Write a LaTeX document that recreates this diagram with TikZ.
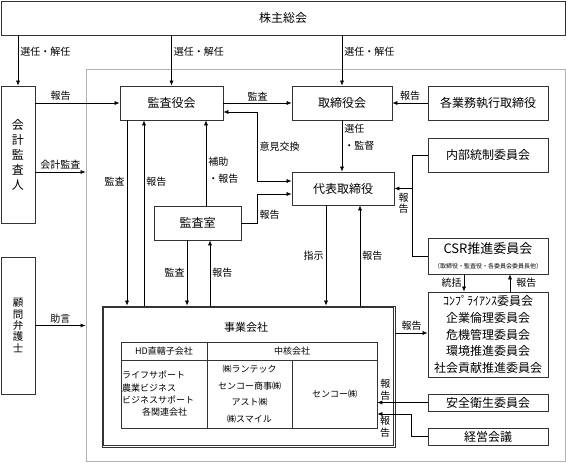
\documentclass[tikz,border=0pt]{standalone}
\usepackage{fontspec}
\setmainfont{Noto Sans CJK JP}
\usepackage{tikz}
\usetikzlibrary{arrows.meta,positioning}
\tikzset{
    BX/.style ={rectangle, draw=black!80, line width=0.7pt, inner sep=0pt, font=\fontsize{12}{14}\selectfont},
    TB/.style ={rectangle, draw=black!80, line width=0.6pt, inner sep=1pt, font=\fontsize{9}{11}\selectfont},
    FR/.style ={rectangle, draw=black!30, line width=1pt, inner sep=0pt},
    LB/.style ={inner sep=2pt, font=\fontsize{10}{11.5}\selectfont},
    AR/.style ={->, >={Latex[length=5pt,width=4pt]}, line width=0.6pt}
}
\begin{document}
\begin{tikzpicture}[x=1pt,y=-1pt,
        TT/.style={font=\fontsize{10}{17}\selectfont, align=left},
        VT/.style={font=\fontsize{10}{11.5}\selectfont, align=center}]
        \useasboundingbox (0,0) rectangle (566,463);
        \node[FR, minimum width=479, minimum height=392](frame) at (325.5,265) {};
        \node[BX, minimum width=564, minimum height=34](soukai) at (283,18) {株主総会};
        \node[BX, minimum width=34, minimum height=137, align=center, font=\fontsize{12}{15}\selectfont](kaikei) at (18,154.5) {会\\計\\監\\査\\人};
        \node[BX, minimum width=34, minimum height=137, align=center, font=\fontsize{10.5}{11.3}\selectfont](komon) at (18,325.5) {顧\\問\\弁\\護\\士};
        \node[BX, minimum width=103, minimum height=34](kansayaku) at (171.5,103) {監査役会};
        \node[BX, minimum width=100, minimum height=34](torishimari) at (342,103) {取締役会};
        \node[BX, minimum width=120, minimum height=34](shikkou) at (488,103) {各業務執行取締役};
        \node[BX, minimum width=102, minimum height=33](daihyo) at (343,188.5) {代表取締役};
        \node[BX, minimum width=87, minimum height=34](kansashitsu) at (197.5,223) {監査室};
        \node[BX, minimum width=120, minimum height=34](naibu) at (488,155) {内部統制委員会};
        \node[BX, minimum width=120, minimum height=36, align=center, font=\fontsize{13}{15.3}\selectfont](csr) at (488,256) {CSR推進委員会\\{\fontsize{6}{6}\selectfont （取締役・監査役・各委員会委員長他）}};
        \node[BX, minimum width=120, minimum height=85, align=center, font=\fontsize{12}{16.8}\selectfont](iinkai) at (488,334.5) {ｺﾝﾌﾟﾗｲｱﾝｽ委員会\\企業倫理委員会\\危機管理委員会\\環境推進委員会\\社会貢献推進委員会};
        \node[BX, minimum width=120, minimum height=17](anzen) at (488,402.5) {安全衛生委員会};
        \node[BX, minimum width=120, minimum height=17](keiei) at (488,436.5) {経営会議};
        \node[BX, minimum width=293, minimum height=141](jigyo) at (248.5,376.5) {};
        \draw[line width=0.7pt, draw=black!80] ([xshift=2pt,yshift=-2pt]jigyo.north west) rectangle ([xshift=-2pt,yshift=2pt]jigyo.south east);
        \node[font=\fontsize{11}{13}\selectfont](jtitle) at (246,327) {事業会社};
        \node[TB, minimum width=86, minimum height=18](hd) at (164,351) {HD直轄子会社};
        \node[TB, minimum width=170, minimum height=18](chukaku) at (292,351) {中核会社};
        \node[TB, text width=84pt, minimum height=68, align=left, font=\fontsize{9}{12.3}\selectfont](kanren) at (164,394) {ライフサポート\\農業ビジネス\\ビジネスサポート\\\hspace*{20pt}各関連会社};
        \node[TB, minimum width=85, minimum height=68, align=center, font=\fontsize{9}{16.7}\selectfont](core) at (249.5,394) {㈱ランテック\\センコー商事㈱\\アスト㈱\\㈱スマイル};
        \node[TB, minimum width=85, minimum height=68](senko) at (334.5,394) {センコー㈱};
        \draw[AR] (soukai.south -| kaikei.north) -- node[LB,right,pos=0.33]{選任・解任} (kaikei.north);
        \draw[AR] (soukai.south -| kansayaku.north) -- node[LB,right,pos=0.33]{選任・解任} (kansayaku.north);
        \draw[AR] (soukai.south -| torishimari.north) -- node[LB,right,pos=0.33]{選任・解任} (torishimari.north);
        \draw[AR] (kansayaku.west -| kaikei.east) -- node[LB,above,pos=0.3]{報告} (kansayaku.west);
        \draw[AR] ([yshift=-17.5pt]kaikei.east) -- node[LB,above]{会計監査} ([yshift=-17.5pt]kaikei.east -| frame.west);
        \draw[AR] (komon.east) -- node[LB,above]{助言} (komon.east -| frame.west);
        \draw[AR] (kansayaku.east) -- node[LB,above]{監査} (torishimari.west);
        \draw[AR] (shikkou.west) -- node[LB,above]{報告} (torishimari.east);
        \draw[AR] (torishimari.south) -- node[LB,TT,right,pos=0.33]{選任\\・監督} (torishimari.south |- daihyo.north);
        \draw[AR,<->] ([yshift=-9pt]kansayaku.east) -- ++(34,0) |- node[LB,right,pos=0.25]{意見交換} ([yshift=7.5pt]daihyo.west);
        \draw[AR] (kansashitsu.east) -- ++(16,0) |- node[LB,right,pos=0.14]{報告} ([yshift=-5.5pt]daihyo.west);
        \draw[AR] ([xshift=8.5pt]kansashitsu.north) -- node[LB,TT,right,pos=0.41]{補助\\・報告} ([xshift=8.5pt]kansashitsu.north |- kansayaku.south);
        \draw[AR] ([xshift=-44.5pt]kansayaku.south) -- node[LB,left,pos=0.33]{監査} ([xshift=-44.5pt]kansayaku.south |- jigyo.north);
        \draw[AR] ([xshift=-27.5pt]kansayaku.south |- jigyo.north) -- node[LB,right,pos=0.67]{報告} ([xshift=-27.5pt]kansayaku.south);
        \draw[AR] ([xshift=-10.5pt]kansashitsu.south) -- node[LB,left]{監査} ([xshift=-10.5pt]kansashitsu.south |- jigyo.north);
        \draw[AR] ([xshift=12.5pt]kansashitsu.south |- jigyo.north) -- node[LB,right]{報告} ([xshift=12.5pt]kansashitsu.south);
        \draw[AR] ([xshift=-17pt]daihyo.south) -- node[LB,left]{指示} ([xshift=-17pt]daihyo.south |- jigyo.north);
        \draw[AR] ([xshift=17pt]daihyo.south |- jigyo.north) -- node[LB,right]{報告} ([xshift=17pt]daihyo.south);
        \draw[line width=0.6pt] (naibu.west) -- ++(-15,0) |- (csr.west);
        \draw[AR] ([xshift=-15pt]naibu.west |- daihyo.east) -- node[LB,VT,below,yshift=-2pt]{報\\告} (daihyo.east);
        \draw[AR] ([xshift=-24pt]csr.south) -- node[LB,left]{統括} ([xshift=-24pt]csr.south |- iinkai.north);
        \draw[AR] ([xshift=22pt]csr.south |- iinkai.north) -- node[LB,right=4pt]{報告} ([xshift=22pt]csr.south);
        \draw[AR] ([yshift=43.5pt]jigyo.east) -- node[LB,above]{報告} ([yshift=43.5pt]jigyo.east -| iinkai.west);
        \draw[AR] (anzen.west) -- node[LB,VT,above,pos=0.84]{報\\告} (anzen.west -| senko.east);
        \draw[AR] (keiei.west) -- ++(-16,0) |- node[LB,VT,below,pos=0.886]{報\\告} ([yshift=-20pt]senko.east);
\end{tikzpicture}
\end{document}
